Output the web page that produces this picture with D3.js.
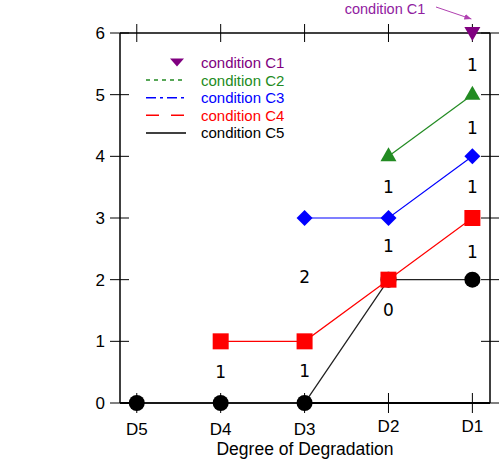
<!DOCTYPE html>
<html><head><meta charset="utf-8">
<script src="https://cdn.jsdelivr.net/npm/d3@7"></script>
<style>body{margin:0;background:#fff}svg{display:block}</style>
</head><body>
<svg id="c" width="499" height="459"></svg>
<script>
const categories = ["D5","D4","D3","D2","D1"];
const seriesNames = ["condition C1","condition C2","condition C3","condition C4","condition C5"];
const c1 = [[5,6]];
const c2 = [[4,4],[5,5]];
const c3 = [[3,3],[4,3],[5,4]];
const c4 = [[2,1],[3,1],[4,2],[5,3]];
const c5 = [[1,0],[2,0],[3,0],[4,2],[5,2]];
const yTicks = [0,1,2,3,4,5,6];
const counts = [
  [5,5.48,"1"],[5,4.46,"1"],[4,3.5,"1"],[5,3.5,"1"],[4,2.55,"1"],[5,2.45,"1"],
  [3,2.04,"2"],[4,1.51,"0"],[2,0.5,"1"],[3,0.52,"1"]
];
const xTitle = "Degree of Degradation";
const annotationText = "condition C1";

const svg = d3.select("#c");
const x = d3.scaleLinear().domain([0.8,5.21]).range([120,490]);
const y = d3.scaleLinear().domain([0,6]).range([403,33]);
const sans = "'Liberation Sans', Arial, sans-serif";

const g = svg.append("g");
g.append("line").attr("x1",120).attr("x2",490).attr("y1",33).attr("y2",33).attr("stroke","#000").attr("stroke-width",1.5);
g.append("line").attr("x1",490).attr("x2",490).attr("y1",33).attr("y2",403).attr("stroke","#000").attr("stroke-width",1.5);

const xs = d3.range(1,6);
xs.forEach(v=>{
  g.append("line").attr("x1",x(v)).attr("x2",x(v)).attr("y1",393).attr("y2",413).attr("stroke","#000");
  g.append("line").attr("x1",x(v)).attr("x2",x(v)).attr("y1",24).attr("y2",42).attr("stroke","#000");
});
yTicks.forEach(v=>{
  g.append("line").attr("x1",110).attr("x2",129).attr("y1",y(v)).attr("y2",y(v)).attr("stroke","#000");
  g.append("line").attr("x1",481).attr("x2",499).attr("y1",y(v)).attr("y2",y(v)).attr("stroke","#000");
});
g.append("line").attr("x1",120).attr("x2",120).attr("y1",33).attr("y2",403).attr("stroke","#000").attr("stroke-width",1.5);
g.append("line").attr("x1",120).attr("x2",490).attr("y1",403).attr("y2",403).attr("stroke","#000").attr("stroke-width",2);

svg.selectAll(".xl").data(categories).enter().append("text")
  .attr("x",(d,i)=>x(i+1)).attr("y",(d,i)=> i>=3 ? 432 : 435).attr("text-anchor","middle")
  .attr("font-family",sans).attr("font-size",17).text(d=>d);
svg.selectAll(".yl").data(yTicks).enter().append("text")
  .attr("x",105).attr("y",d=>y(d)+6).attr("text-anchor","end")
  .attr("font-family",sans).attr("font-size",17).text(d=>d);
svg.append("text").attr("x",305).attr("y",455).attr("text-anchor","middle")
  .attr("font-family",sans).attr("font-size",17.5).text(xTitle);

const line = d3.line().x(d=>x(d[0])).y(d=>y(d[1]));
svg.append("path").datum(c5).attr("d",line).attr("fill","none").attr("stroke","#222").attr("stroke-width",1.3);
svg.append("path").datum(c4).attr("d",line).attr("fill","none").attr("stroke","#ff0000").attr("stroke-width",1.2);
svg.append("path").datum(c3).attr("d",line).attr("fill","none").attr("stroke","#0000ff").attr("stroke-width",1.2);
svg.append("path").datum(c2).attr("d",line).attr("fill","none").attr("stroke","#228b22").attr("stroke-width",1.2);

svg.selectAll(".m5").data(c5).enter().append("circle")
  .attr("cx",d=>x(d[0])).attr("cy",d=>y(d[1])).attr("r",8).attr("fill","#000");
svg.selectAll(".m4").data(c4).enter().append("rect")
  .attr("x",d=>x(d[0])-8).attr("y",d=>y(d[1])-8).attr("width",16).attr("height",16).attr("fill","#ff0000");
const diamond = "M0,-8L8,0L0,8L-8,0Z";
svg.selectAll(".m3").data(c3).enter().append("path")
  .attr("transform",d=>`translate(${x(d[0])},${y(d[1])})`).attr("d",diamond).attr("fill","#0000ff");
const triUp = "M0,-9L8,5L-8,5Z";
svg.selectAll(".m2").data(c2).enter().append("path")
  .attr("transform",d=>`translate(${x(d[0])},${y(d[1])})`).attr("d",triUp).attr("fill","#228b22");
const triDown = "M-8,-6L8,-6L0,8Z";
svg.selectAll(".m1").data(c1).enter().append("path")
  .attr("transform",d=>`translate(${x(d[0])},${y(d[1])})`).attr("d",triDown).attr("fill","#800080");

svg.selectAll(".cnt").data(counts).enter().append("text")
  .attr("x",d=>x(d[0])).attr("y",d=>y(d[1])).attr("dy","0.36em").attr("text-anchor","middle")
  .attr("font-family","'DejaVu Sans', sans-serif").attr("font-size",17).text(d=>d[2]);

const legColors = ["#800080","#228b22","#0000ff","#ff0000","#000000"];
const legDash = [null,"4,4","10,4,3,4","13,12",null];
const leg = svg.append("g");
seriesNames.forEach((n,i)=>{
  const ly = 62.5 + i*17.6;
  if(i===0){
    leg.append("path").attr("transform",`translate(177,${ly})`).attr("d","M-7,-4L7,-4L0,4Z").attr("fill","#800080");
  } else {
    leg.append("line").attr("x1",146).attr("x2",186).attr("y1",ly).attr("y2",ly)
      .attr("stroke",legColors[i]).attr("stroke-width",1.5).attr("stroke-dasharray",legDash[i]);
  }
  leg.append("text").attr("x",201).attr("y",ly+5.5).attr("font-family",sans).attr("font-size",15)
    .attr("fill",legColors[i]).text(n);
});

const defs = svg.append("defs");
defs.append("marker").attr("id","ah").attr("viewBox","0 0 10 10").attr("refX",10).attr("refY",5)
  .attr("markerWidth",7).attr("markerHeight",7).attr("orient","auto")
  .append("path").attr("d","M0,1L10,5L0,9Z").attr("fill","#b040b0");
svg.append("line").attr("x1",436).attr("y1",7).attr("x2",x(5)-1).attr("y2",y(6)-14)
  .attr("stroke","#b040b0").attr("stroke-width",1).attr("marker-end","url(#ah)");
svg.append("text").attr("x",385).attr("y",13.5).attr("text-anchor","middle")
  .attr("font-family",sans).attr("font-size",14.5).attr("fill","#9020a0").text(annotationText);
</script>
</body></html>
